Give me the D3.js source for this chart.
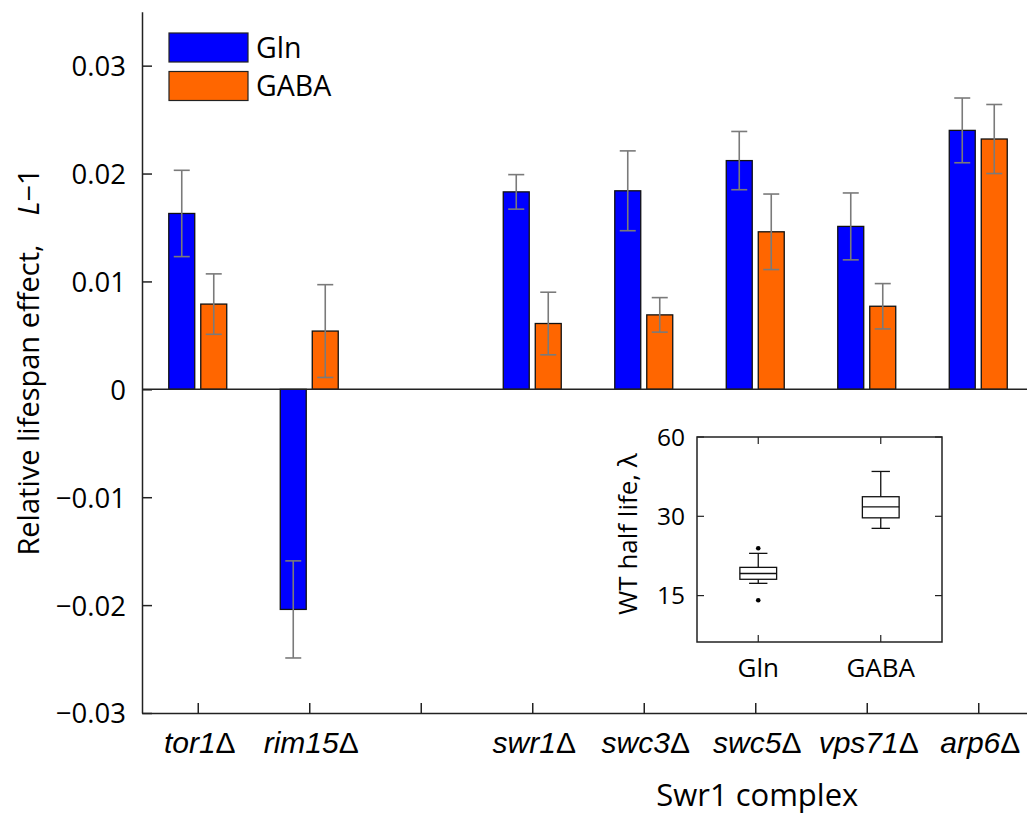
<!DOCTYPE html>
<html lang="en">
<head>
<meta charset="UTF-8">
<title>Relative lifespan effect</title>
<script src="https://d3js.org/d3.v7.min.js"></script>
<style>
    body, html { margin: 0; padding: 0; background: #fff; }
    svg text { font-family: "Open Sans", sans-serif; fill: #000; }
    .axis path, .axis line { stroke: #222; stroke-width: 1.5; }
    .xlab { font-family: "Liberation Sans", Arial, sans-serif !important; font-style: italic; }
</style>
</head>
<body>
<div id="chart"></div>
<script>
// main bar data (position 3 is an empty slot)
const categories = ["tor1", "rim15", "", "swr1", "swc3", "swc5", "vps71", "arp6"];
const glnValues  = [0.0163, -0.0204, null, 0.0183, 0.0184, 0.0212, 0.0151, 0.0240];
const glnErrors  = [0.0040, 0.0045, null, 0.0016, 0.0037, 0.0027, 0.0031, 0.0030];
const gabaValues = [0.0079, 0.0054, null, 0.0061, 0.0069, 0.0146, 0.0077, 0.0232];
const gabaErrors = [0.0028, 0.0043, null, 0.0029, 0.0016, 0.0035, 0.0021, 0.0032];
const yTicks = [-0.03, -0.02, -0.01, 0, 0.01, 0.02, 0.03];
const seriesNames = ["Gln", "GABA"];
const seriesColors = ["#0000ff", "#ff6600"];

// inset box plot data: [lower whisker, q1, median, q3, upper whisker]
const insetGroups = ["Gln", "GABA"];
const glnBox = [16.7, 17.3, 18.2, 19.2, 21.7];
const glnOutliers = [22.7, 14.4];
const gabaBox = [27.0, 29.6, 32.6, 35.6, 44.4];
const gabaOutliers = [];
const insetTicks = [15, 30, 60];

const W = 1027, H = 816;
const svg = d3.select("#chart").append("svg").attr("width", W).attr("height", H);

const x = d3.scaleLinear().domain([0.5, 8.5]).range([142, 1034]);
const y = d3.scaleLinear().domain([-0.03, 0.035]).range([713, 11.7]);

const barW = 0.233, offs = [-0.1435, 0.1435];

// bars
const series = [
    { vals: glnValues, errs: glnErrors },
    { vals: gabaValues, errs: gabaErrors }
];
series.forEach((s, si) => {
    const pts = s.vals.map((v, i) => ({ pos: i + 1, v: v, e: s.errs[i] })).filter(d => d.v !== null);
    svg.append("g").selectAll("rect").data(pts).enter().append("rect")
        .attr("x", d => x(d.pos + offs[si] - barW / 2))
        .attr("width", x(barW) - x(0))
        .attr("y", d => y(Math.max(0, d.v)))
        .attr("height", d => Math.abs(y(d.v) - y(0)))
        .attr("fill", seriesColors[si])
        .attr("stroke", "#111").attr("stroke-width", 1.3);
});

// axes
const yAxis = d3.axisLeft(y).tickValues(yTicks).tickSizeInner(-10).tickSizeOuter(0).tickPadding(16)
    .tickFormat(d => d === 0 ? "0" : d3.format(".2f")(d));
const gy = svg.append("g").attr("class", "axis").attr("transform", `translate(${x(0.5)},0)`).call(yAxis);
gy.selectAll("text").style("font-size", "27.5px").attr("dy", "0.36em");

const xAxis = d3.axisBottom(x).tickValues(d3.range(1, 9)).tickSizeInner(-10).tickSizeOuter(0).tickFormat("");
svg.append("g").attr("class", "axis").attr("transform", `translate(0,${y(-0.03)})`).call(xAxis);

// zero line
svg.append("line").attr("x1", x(0.5)).attr("x2", x(8.5)).attr("y1", y(0)).attr("y2", y(0))
    .attr("stroke", "#222").attr("stroke-width", 1.5);

// error bars
series.forEach((s, si) => {
    const pts = s.vals.map((v, i) => ({ pos: i + 1 + offs[si], v: v, e: s.errs[i] })).filter(d => d.v !== null);
    const g = svg.append("g").attr("stroke", "#7a7a7a").attr("stroke-width", 1.6);
    pts.forEach(d => {
        const cx = x(d.pos);
        g.append("line").attr("x1", cx).attr("x2", cx).attr("y1", y(d.v - d.e)).attr("y2", y(d.v + d.e));
        [d.v - d.e, d.v + d.e].forEach(t => {
            g.append("line").attr("x1", cx - 8).attr("x2", cx + 8).attr("y1", y(t)).attr("y2", y(t));
        });
    });
});

// x tick labels
categories.forEach((c, i) => {
    if (!c) return;
    const t = svg.append("text").attr("class", "xlab").attr("x", x(i + 1) + 2).attr("y", 753)
        .attr("text-anchor", "middle").style("font-size", "30px");
    t.append("tspan").text(c);
    t.append("tspan").style("font-style", "normal").style("font-weight", "300").text("\u0394");
});

svg.append("text").attr("x", x(6) + 2).attr("y", 806).attr("text-anchor", "middle")
    .style("font-size", "31px").text("Swr1 complex");

// y label
const yl = svg.append("text").attr("transform", `translate(39,362) rotate(-90)`)
    .attr("text-anchor", "middle").style("font-size", "29px");
yl.append("tspan").text("Relative lifespan effect,\u2002\u2002");
yl.append("tspan").style("font-style", "italic").text("L");
yl.append("tspan").text("\u22121");

// legend
seriesNames.forEach((n, i) => {
    const ly = 33 + i * 38.5;
    svg.append("rect").attr("x", 169).attr("y", ly).attr("width", 79).attr("height", 29)
        .attr("fill", seriesColors[i]).attr("stroke", "#222").attr("stroke-width", 1.2);
    svg.append("text").attr("x", 256).attr("y", ly + 14.5).attr("dy", "0.36em")
        .style("font-size", "28.5px").text(n);
});

// inset
const ix = d3.scaleLinear().domain([0.5, 2.5]).range([697, 942]);
const iy = d3.scaleLog().domain([10, 60]).range([642, 437]);
const inset = svg.append("g");
inset.append("rect").attr("x", ix(0.5)).attr("y", iy(60)).attr("width", ix(2.5) - ix(0.5))
    .attr("height", iy(10) - iy(60)).attr("fill", "#fff").attr("stroke", "#222").attr("stroke-width", 1.5);

insetTicks.forEach(t => {
    inset.append("line").attr("x1", ix(0.5)).attr("x2", ix(0.5) + 7).attr("y1", iy(t)).attr("y2", iy(t)).attr("stroke", "#222").attr("stroke-width", 1.2);
    inset.append("line").attr("x1", ix(2.5)).attr("x2", ix(2.5) - 7).attr("y1", iy(t)).attr("y2", iy(t)).attr("stroke", "#222").attr("stroke-width", 1.2);
    inset.append("text").attr("x", ix(0.5) - 12).attr("y", iy(t)).attr("dy", "0.36em")
        .attr("text-anchor", "end").style("font-size", "24.5px").text(t);
});
insetGroups.forEach((n, i) => {
    const cx = ix(i + 1);
    inset.append("line").attr("x1", cx).attr("x2", cx).attr("y1", iy(10)).attr("y2", iy(10) - 7).attr("stroke", "#222").attr("stroke-width", 1.2);
    inset.append("line").attr("x1", cx).attr("x2", cx).attr("y1", iy(60)).attr("y2", iy(60) + 7).attr("stroke", "#222").attr("stroke-width", 1.2);
    inset.append("text").attr("x", cx).attr("y", 677).attr("text-anchor", "middle")
        .style("font-size", "26px").text(n);
});

const boxes = [{ s: glnBox, o: glnOutliers }, { s: gabaBox, o: gabaOutliers }];
boxes.forEach((b, i) => {
    const cx = ix(i + 1);
    const g = inset.append("g").attr("stroke", "#111").attr("stroke-width", 1.3).attr("fill", "none");
    const hw = ix(0.15) - ix(0), cw = ix(0.075) - ix(0);
    g.append("line").attr("x1", cx).attr("x2", cx).attr("y1", iy(b.s[0])).attr("y2", iy(b.s[1]));
    g.append("line").attr("x1", cx).attr("x2", cx).attr("y1", iy(b.s[3])).attr("y2", iy(b.s[4]));
    g.append("line").attr("x1", cx - cw).attr("x2", cx + cw).attr("y1", iy(b.s[0])).attr("y2", iy(b.s[0]));
    g.append("line").attr("x1", cx - cw).attr("x2", cx + cw).attr("y1", iy(b.s[4])).attr("y2", iy(b.s[4]));
    g.append("rect").attr("x", cx - hw).attr("width", 2 * hw).attr("y", iy(b.s[3])).attr("height", iy(b.s[1]) - iy(b.s[3]));
    g.append("line").attr("x1", cx - hw).attr("x2", cx + hw).attr("y1", iy(b.s[2])).attr("y2", iy(b.s[2]));
    b.o.forEach(v => {
        inset.append("circle").attr("cx", cx).attr("cy", iy(v)).attr("r", 2.3).attr("fill", "#000");
    });
});

const il = inset.append("text").attr("transform", `translate(637,534) rotate(-90)`)
    .attr("text-anchor", "middle").style("font-size", "26px");
il.append("tspan").text("WT half life, ");
il.append("tspan").text("\u03bb");
</script>
</body>
</html>
